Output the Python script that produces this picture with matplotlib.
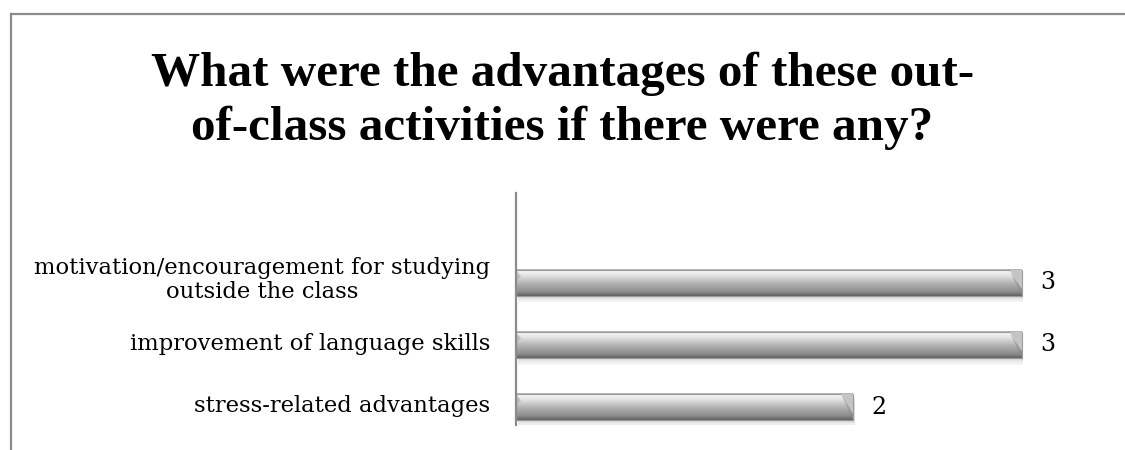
import numpy as np
import matplotlib
matplotlib.use('Agg')
import matplotlib.pyplot as plt
from matplotlib.lines import Line2D
from matplotlib.colors import LinearSegmentedColormap

title = 'What were the advantages of these out-\nof-class activities if there were any?'
categories = ['stress-related advantages',
              'improvement of language skills',
              'motivation/encouragement for studying\noutside the class']
values = [2, 3, 3]

W, H = 1125, 450
fig = plt.figure(figsize=(W / 100, H / 100), dpi=100)
fig.patch.set_facecolor('white')

# chart frame (cut off on the right and bottom like the screenshot)
fx = 11 / W
fy = 1 - 14 / H
fig.add_artist(Line2D([fx, 1], [fy, fy], color='#8c8c8c', lw=1.6, transform=fig.transFigure))
fig.add_artist(Line2D([fx, fx], [0, fy], color='#8c8c8c', lw=1.6, transform=fig.transFigure))

fig.text(0.5, 1 - 101 / H, title, ha='center', va='center', fontsize=35.4,
         fontweight='bold', family='Liberation Serif', linespacing=1.28)

# axes: x from 516px, 168.5 px per unit ; y 193..425 px
x0, x1 = 516, 516 + 168.5 * 3.5
y_top, y_bot = 193, 425
ax = fig.add_axes([x0 / W, 1 - y_bot / H, (x1 - x0) / W, (y_bot - y_top) / H])
ax.axis('off')
ax.plot([0, 0], [-0.29, 3.45], color='#8c8c8c', lw=1.6, clip_on=False, zorder=5)

ypos = np.arange(len(categories))
bars = ax.barh(ypos, values, height=0.42, color='none', edgecolor='none')

# top of the bar (row 0) light, bottom dark
cmap = LinearSegmentedColormap.from_list('bar', [
    (0.0, '#a8a8a8'), (0.07, '#f6f6f6'), (0.25, '#e0e0e0'),
    (0.55, '#b0b0b0'), (0.85, '#8c8c8c'), (1.0, '#606060')])
grad = np.linspace(0, 1, 100).reshape(-1, 1)

for b, v in zip(bars, values):
    x, y, w, h = b.get_x(), b.get_y(), b.get_width(), b.get_height()
    # soft shadow below
    for k in range(4):
        ax.add_patch(plt.Rectangle((x + 0.01, y - 0.03 - k * 0.025), w, h,
                                   color='#000000', alpha=0.035, lw=0, zorder=1))
    ax.imshow(grad, extent=[x, x + w, y, y + h], origin='upper', aspect='auto',
              cmap=cmap, zorder=2, interpolation='bilinear')
    ax.add_patch(plt.Rectangle((x, y), w, h, fill=False, edgecolor='#9a9a9a', lw=0.8, zorder=3))
    # bevelled right end
    bw = 0.07
    ax.add_patch(plt.Polygon([[x + w - bw, y + h], [x + w, y + h], [x + w, y + h * 0.25]],
                             color='#c4c4c4', lw=0, zorder=3))
    ax.add_patch(plt.Polygon([[x + w - bw, y + h], [x + w, y + h * 0.25], [x + w, y]],
                             color='#8a8a8a', lw=0, alpha=0.5, zorder=3))
    # small bevel on the left end
    ax.add_patch(plt.Polygon([[x, y + h], [x + 0.03, y + h * 0.75], [x, y + h * 0.6]],
                             color='#a0a0a0', lw=0, alpha=0.5, zorder=3))
    ax.text(x + w + 0.11, y + h / 2, str(v), ha='left', va='center', fontsize=17,
            family='DejaVu Serif')

ax.set_xlim(0, 3.5)
ax.set_ylim(-0.29, 3.45)

for yy, lab in zip(ypos, categories):
    ax.text(-0.155, yy + 0.05 if '\n' in lab else yy + 0.02, lab, ha='right', va='center',
            multialignment='center', fontsize=16.3, family='DejaVu Serif', linespacing=1.1)

fig.savefig('out.png', dpi=100, facecolor='white')
